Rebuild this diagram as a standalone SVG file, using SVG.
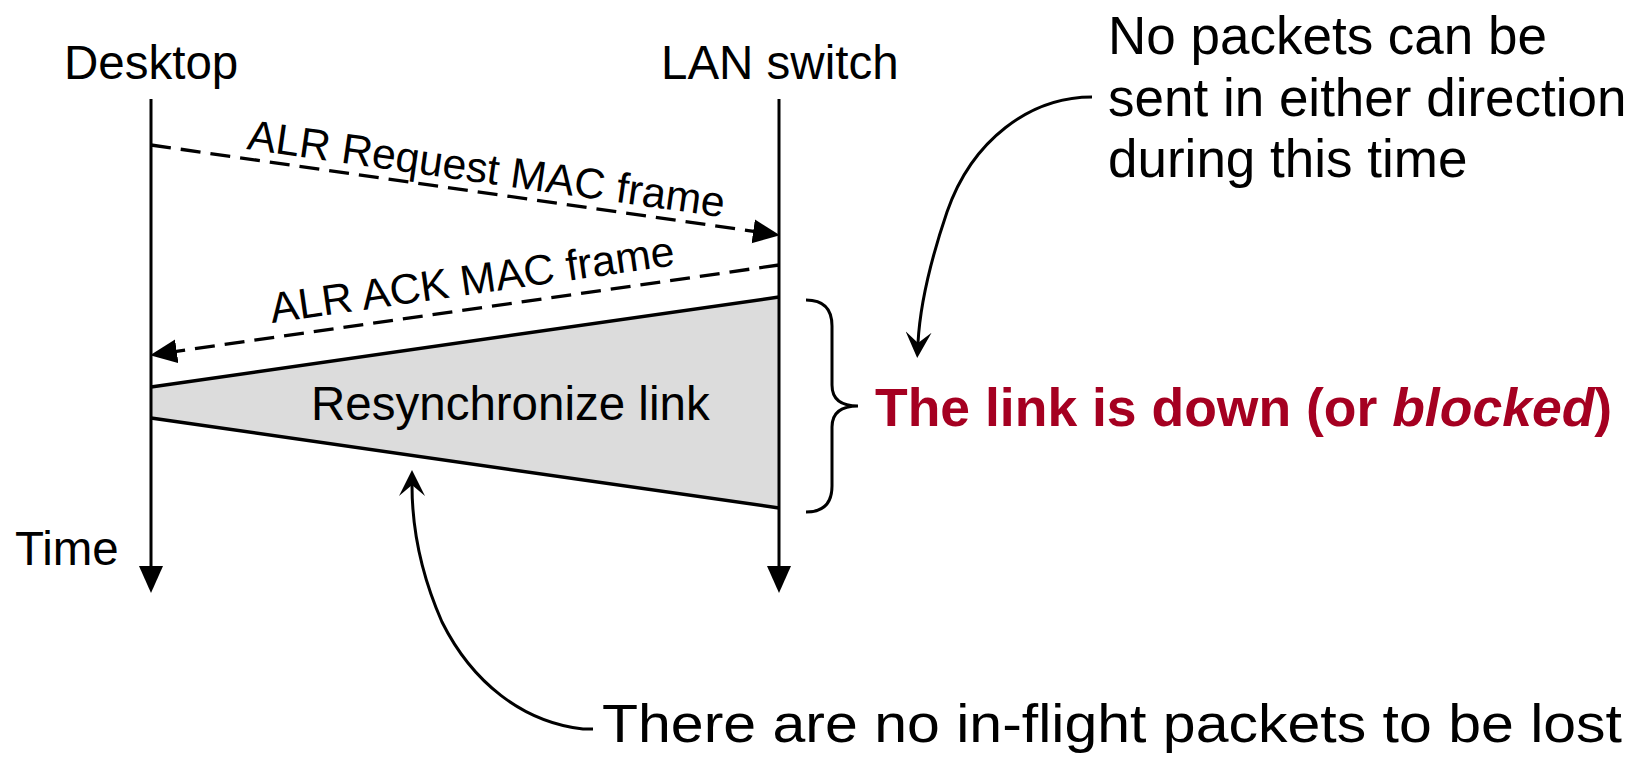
<svg xmlns="http://www.w3.org/2000/svg" width="1647" height="759" viewBox="0 0 1647 759">
  <style>
    .lbl { font-family: "Liberation Sans", Arial, sans-serif; font-size: 47.5px; fill: #000; }
    .msg { font-family: "Liberation Sans", Arial, sans-serif; font-size: 42.7px; fill: #000; }
    .note { font-family: "Liberation Sans", Arial, sans-serif; font-size: 53px; fill: #000; }
    .red { font-family: "Liberation Sans", Arial, sans-serif; font-size: 53.5px; font-weight: bold; fill: #A50021; }
    .life { stroke: #000; stroke-width: 3; fill: none; }
    .dash { stroke: #000; stroke-width: 3.3; fill: none; stroke-dasharray: 20 10; }
    .curve { stroke: #000; stroke-width: 3; fill: none; }
  </style>
  <defs>
    <marker id="tri" markerUnits="userSpaceOnUse" viewBox="0 -13 28 26" refX="4" refY="0" markerWidth="28" markerHeight="26" orient="auto">
      <path d="M0,-12 L27,0 L0,12 Z" fill="#000"/>
    </marker>
    <marker id="stealth" markerUnits="userSpaceOnUse" viewBox="0 -13 26 26" refX="11" refY="0" markerWidth="26" markerHeight="26" orient="auto">
      <path d="M0,-13 L26,0 L0,13 L11,0 Z" fill="#000"/>
    </marker>
  </defs>

  <!-- resynchronization period between the two stations -->
  <g id="resync">
    <polygon points="151,387 779,297 779,508 151,418" fill="#DCDCDC" stroke="none"/>
    <line x1="151" y1="387" x2="779" y2="297" stroke="#000" stroke-width="3.5"/>
    <line x1="151" y1="418" x2="779" y2="508" stroke="#000" stroke-width="3.5"/>
    <text class="lbl" x="311" y="420">Resynchronize link</text>
  </g>

  <!-- stations with their time axes -->
  <g id="desktop">
    <text class="lbl" x="64" y="79">Desktop</text>
    <line class="life" x1="151" y1="99" x2="151" y2="570" marker-end="url(#tri)"/>
    <text class="lbl" x="15" y="565">Time</text>
  </g>
  <g id="lan-switch">
    <text class="lbl" x="661" y="79">LAN switch</text>
    <line class="life" x1="779" y1="99" x2="779" y2="570" marker-end="url(#tri)"/>
  </g>

  <!-- message frames and annotation pointers -->
  <g id="connectors">
    <line class="dash" x1="151" y1="145" x2="757.2" y2="231.9" marker-end="url(#tri)"/>
    <line class="dash" x1="779" y1="265" x2="172.8" y2="351.9" marker-end="url(#tri)"/>
    <path class="curve" d="M1092,97 C1030,97 972,140 947,212 C929,265 920,305 918,343" marker-end="url(#stealth)"/>
    <path class="curve" d="M593,729 L583,729 C522,722 472,682 442,622 C420,572 412,525 412,485" marker-end="url(#stealth)"/>
  </g>

  <g id="frame-labels">
    <text class="msg" transform="translate(246,149) rotate(8.15)">ALR Request MAC frame</text>
    <text class="msg" transform="translate(272,323) rotate(-8.15)">ALR ACK MAC frame</text>
  </g>

  <!-- link-down span -->
  <g id="link-down">
    <path d="M806,300 Q832,300 832,326 L832,385 Q832,406 858,406 Q832,406 832,427 L832,486 Q832,512 806,512" fill="none" stroke="#000" stroke-width="3"/>
    <text class="red" x="875" y="426">The link is down (or <tspan font-style="italic">blocked</tspan>)</text>
  </g>

  <g id="note-blocked">
    <text class="note" x="1108" y="54">No packets can be</text>
    <text class="note" x="1108" y="116">sent in either direction</text>
    <text class="note" x="1108" y="177">during this time</text>
  </g>

  <g id="note-inflight">
    <text class="note" x="602" y="742" textLength="1020" lengthAdjust="spacingAndGlyphs">There are no in-flight packets to be lost</text>
  </g>
</svg>
